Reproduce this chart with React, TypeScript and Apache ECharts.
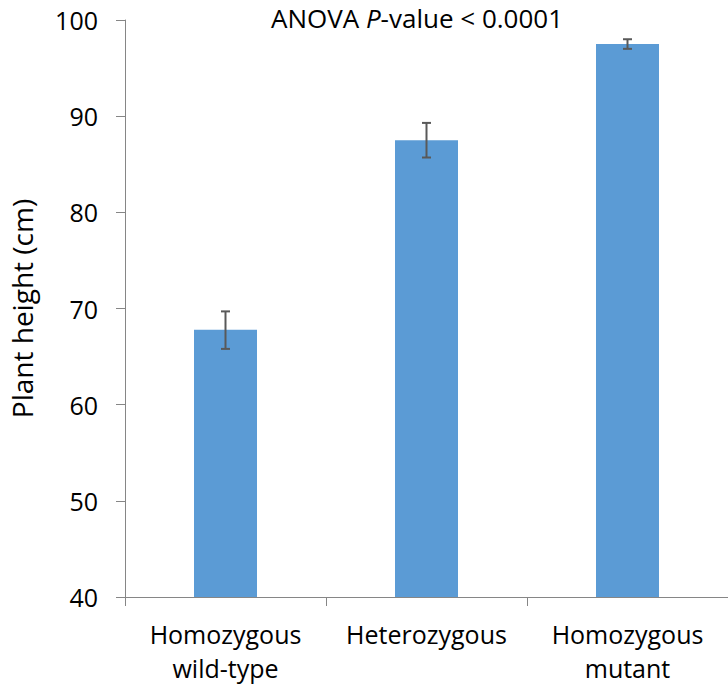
import React, { useEffect, useRef } from "react";
import * as echarts from "echarts";

const categories = ["Homozygous\nwild-type", "Heterozygous", "Homozygous\nmutant"];
const means = [67.8, 87.5, 97.5];
const errLow = [65.8, 85.7, 97.0];
const errHigh = [69.7, 89.3, 98.0];
const yTicks = { min: 40, max: 100, interval: 10 };

const FONT = "'Open Sans', 'Noto Sans', sans-serif";

export default function App() {
  const ref = useRef<HTMLDivElement>(null);
  useEffect(() => {
    if (!ref.current) return;
    const chart = echarts.init(ref.current, null, { renderer: "svg" });
    chart.setOption({
      animation: false,
      textStyle: { fontFamily: FONT },
      title: {
        text: "{n|ANOVA }{i|P}{n|-value < 0.0001}",
        left: 412,
        top: 0,
        textAlign: "center",
        textStyle: {
          fontWeight: "normal",
          rich: {
            n: { fontSize: 26, color: "#000", fontFamily: FONT, fontWeight: "normal" },
            i: { fontSize: 26, color: "#000", fontStyle: "italic", fontFamily: FONT, fontWeight: "normal" },
          },
        },
      },
      grid: { left: 124, top: 20, width: 612, height: 577, containLabel: false },
      xAxis: {
        type: "category",
        data: categories,
        boundaryGap: true,
        axisLine: { lineStyle: { color: "#868686", width: 1 } },
        axisTick: { show: true, length: 9, lineStyle: { color: "#868686" } },
        axisLabel: {
          color: "#000",
          fontSize: 25,
          fontFamily: FONT,
          lineHeight: 34,
          margin: 20,
          interval: 0,
        },
      },
      yAxis: {
        type: "value",
        min: yTicks.min,
        max: yTicks.max,
        interval: yTicks.interval,
        name: "Plant height (cm)",
        nameLocation: "middle",
        nameGap: 89,
        nameTextStyle: { color: "#000", fontSize: 28, fontFamily: FONT },
        splitLine: { show: false },
        axisLine: { show: true, lineStyle: { color: "#868686", width: 1 } },
        axisTick: { show: true, length: 9, lineStyle: { color: "#868686" } },
        axisLabel: { color: "#000", fontSize: 25, fontFamily: FONT, margin: 27 },
      },
      series: [
        {
          type: "bar",
          data: means,
          barWidth: 63,
          itemStyle: { color: "#5B9BD5" },
        },
        {
          type: "custom",
          data: categories.map((_, i) => [i, errLow[i], errHigh[i]]),
          z: 10,
          renderItem: (params: any, api: any) => {
            const x = api.value(0);
            const lo = api.coord([x, api.value(1)]);
            const hi = api.coord([x, api.value(2)]);
            const hw = 4.5;
            const style = { stroke: "#595959", lineWidth: 2 };
            return {
              type: "group",
              children: [
                { type: "line", shape: { x1: lo[0], y1: lo[1], x2: hi[0], y2: hi[1] }, style },
                { type: "line", shape: { x1: lo[0] - hw, y1: lo[1], x2: lo[0] + hw, y2: lo[1] }, style },
                { type: "line", shape: { x1: hi[0] - hw, y1: hi[1], x2: hi[0] + hw, y2: hi[1] }, style },
              ],
            };
          },
        },
      ],
    });
    return () => chart.dispose();
  }, []);
  return (
    <div
      ref={ref}
      style={{ position: "absolute", left: 0, top: 0, width: 728, height: 692 }}
    />
  );
}
